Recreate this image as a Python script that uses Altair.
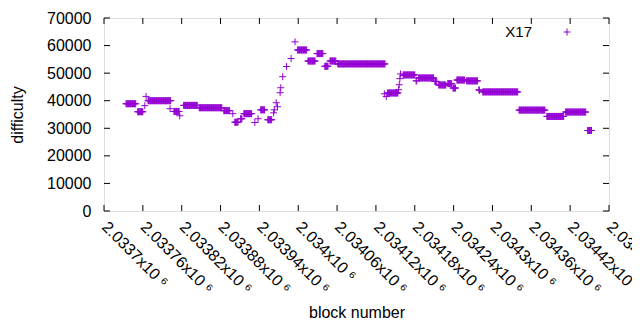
import altair as alt
import pandas as pd

# constant-difficulty runs: first block, last block, difficulty
run_start = [2033734, 2033752, 2033768, 2033808, 2033823, 2033847, 2033885, 2033902, 2033911,
             2033916, 2033942, 2033953, 2033999, 2034015, 2034029, 2034041, 2034049, 2034061,
             2034138, 2034162, 2034182, 2034186, 2034211, 2034217, 2034231, 2034239, 2034245,
             2034260, 2034285, 2034341, 2034384, 2034413, 2034447]
run_end = [2033749, 2033760, 2033803, 2033816, 2033844, 2033882, 2033894, 2033907, 2033913,
           2033928, 2033948, 2033959, 2034013, 2034026, 2034038, 2034046, 2034058, 2034134,
           2034154, 2034180, 2034183, 2034209, 2034214, 2034228, 2034237, 2034243, 2034257,
           2034277, 2034339, 2034381, 2034410, 2034444, 2034453]
run_value = [38900, 36000, 40000, 36100, 38300, 37450, 36400, 32200, 33450,
             35300, 36700, 33100, 58400, 54400, 57100, 52500, 54400, 53350,
             42800, 49350, 47200, 48250, 47000, 45700, 46200, 44600, 47500,
             47200, 43200, 36600, 34300, 35900, 29200]

# isolated blocks
single_block = [2033763, 2033765, 2033802, 2033817, 2033899, 2033933, 2033938, 2033962,
                2033963, 2033966, 2033968, 2033972, 2033973, 2033976, 2033982, 2033989,
                2033995, 2034133, 2034136, 2034155, 2034156, 2034157, 2034158, 2034279,
                2034280]
single_value = [38200, 41560, 37100, 34550, 35300, 32100, 33450, 35600,
                36700, 39270, 37800, 42900, 44700, 48700, 52400, 55300,
                61350, 42500, 41500, 44000, 45800, 48000, 49700, 44000,
                43750]

x_ticks = [2033700 + 60 * i for i in range(14)]
y_ticks = [10000 * i for i in range(8)]

blocks, diffs = [], []
for s, e, v in zip(run_start, run_end, run_value):
    for b in range(s, e + 1):
        blocks.append(b)
        diffs.append(v)
blocks += single_block
diffs += single_value
df = pd.DataFrame({"block": blocks, "difficulty": diffs})

W, H = 505, 193
FONT = "Liberation Sans"
FS = 16
PURPLE = "#9400D3"
PLUS = "M-1,0L1,0M0,-1L0,1"

xs = alt.Scale(domain=[2033700, 2034480], nice=False, zero=False)
ys = alt.Scale(domain=[0, 70000], nice=False)

xaxis = alt.Axis(values=x_ticks, ticks=False, tickSize=0, domain=False, grid=False,
                 labelExpr="format(datum.value/1000000, '.6~g') + 'x10 ⁶'",
                 labelAngle=45, labelAlign="left", labelBaseline="middle",
                 labelPadding=13, labelFont=FONT, labelFontSize=FS,
                 labelColor="black", labelOverlap=False, labelBound=False,
                 labelFlush=False,
                 titleFont=FONT, titleFontSize=FS, titleFontWeight="normal",
                 titleColor="black", titleY=101, titleBaseline="middle")
yaxis = alt.Axis(values=y_ticks, format="d", ticks=False, tickSize=0, domain=False,
                 grid=False, labelPadding=13, labelFont=FONT, labelFontSize=FS,
                 labelColor="black", labelOverlap=False, labelFlush=False,
                 titleFont=FONT, titleFontSize=FS, titleFontWeight="normal",
                 titleColor="black", titleX=-87, titleBaseline="middle")

points = alt.Chart(df).mark_point(
    shape=PLUS, size=49, filled=False, stroke=PURPLE, strokeWidth=1, opacity=1
).encode(
    x=alt.X("block:Q", scale=xs, title="block number", axis=xaxis),
    y=alt.Y("difficulty:Q", scale=ys, title="difficulty", axis=yaxis),
)

xt = pd.DataFrame({"t": x_ticks})
yt = pd.DataFrame({"t": y_ticks})
tick_style = dict(color="black", strokeWidth=1)
xb = alt.Chart(xt).mark_rule(**tick_style).encode(
    x=alt.X("t:Q", scale=xs, title="block number", axis=xaxis),
    y=alt.value(H), y2=alt.value(H - 6))
xtop = alt.Chart(xt).mark_rule(**tick_style).encode(
    x=alt.X("t:Q", scale=xs, title="block number", axis=xaxis),
    y=alt.value(0), y2=alt.value(6))
yl = alt.Chart(yt).mark_rule(**tick_style).encode(
    y=alt.Y("t:Q", scale=ys, title="difficulty", axis=yaxis),
    x=alt.value(0), x2=alt.value(6))
yr = alt.Chart(yt).mark_rule(**tick_style).encode(
    y=alt.Y("t:Q", scale=ys, title="difficulty", axis=yaxis),
    x=alt.value(W), x2=alt.value(W - 6))

leg = pd.DataFrame({"name": ["X17"]})
leg_text = alt.Chart(leg).mark_text(
    font=FONT, fontSize=15, align="right", baseline="middle", color="black"
).encode(text="name:N", x=alt.value(428), y=alt.value(14))
leg_pt = alt.Chart(leg).mark_point(
    shape=PLUS, size=49, filled=False, stroke=PURPLE, strokeWidth=1, opacity=1
).encode(x=alt.value(463), y=alt.value(14))

chart = alt.layer(points, xb, xtop, yl, yr, leg_text, leg_pt).properties(
    width=W, height=H,
    autosize=alt.AutoSizeParams(type="none"),
    padding={"left": 96, "top": 10, "right": 23, "bottom": 110},
).configure_view(stroke="black", strokeWidth=1).configure(background="white")

chart.save("out.html", embed_options={"renderer": "svg", "actions": False})
